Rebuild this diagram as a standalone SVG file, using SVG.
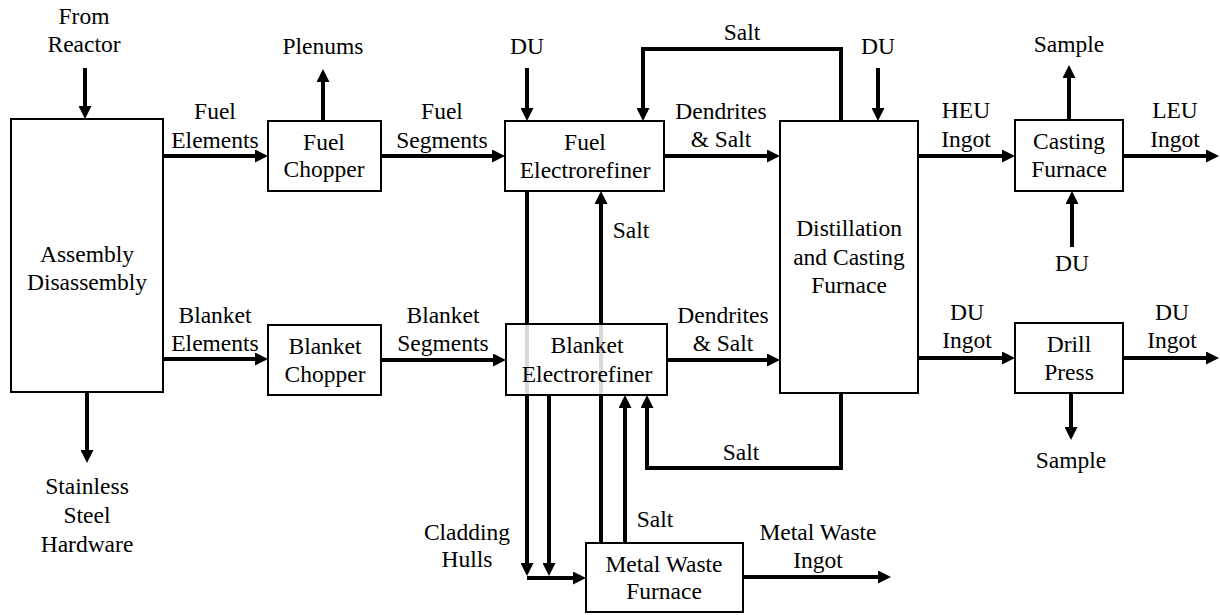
<svg xmlns="http://www.w3.org/2000/svg" width="1220" height="615" viewBox="0 0 1220 615" font-family="'Liberation Serif', 'Times New Roman', serif">
<style>
text{font-family:'Liberation Serif','Times New Roman',serif;font-size:23.5px;fill:#000;text-anchor:middle}
.box{fill:#fff;stroke:#000;stroke-width:2}
.see{fill:#fff;fill-opacity:0.85;stroke:#000;stroke-width:2}
.c{fill:none;stroke:#000;stroke-width:4}
.a{marker-end:url(#ah)}
</style>
<defs>
<marker id="ah" markerUnits="userSpaceOnUse" markerWidth="13" markerHeight="13" viewBox="0 0 13 13" refX="7" refY="6.5" orient="auto">
<path d="M0,0 L13,6.5 L0,13 z" fill="#000"/>
</marker>
</defs>
<rect width="1220" height="615" fill="#fff"/>
<g id="connectors">
<path class="c a" d="M85,68 V113"/>
<path class="c a" d="M87,392 V457"/>
<path class="c a" d="M163,156 H262"/>
<path class="c a" d="M163,359 H262"/>
<path class="c a" d="M323,121 V75"/>
<path class="c a" d="M381,156 H499"/>
<path class="c a" d="M381,360 H500"/>
<path class="c a" d="M527,68 V115"/>
<path class="c a" d="M841,121 V49 H643 V115"/>
<path class="c a" d="M664,156 H774"/>
<path class="c a" d="M878,68 V115"/>
<path class="c a" d="M918,156 H1009"/>
<path class="c a" d="M1069,120 V71"/>
<path class="c a" d="M1123,156 H1213"/>
<path class="c a" d="M1072,247 V197"/>
<path class="c a" d="M667,360 H774"/>
<path class="c a" d="M918,358 H1009"/>
<path class="c a" d="M1123,358 H1213"/>
<path class="c a" d="M1071,393 V434"/>
<path class="c a" d="M841,393 V468 H647 V401"/>
<path class="c a" d="M527,191 V570"/>
<path class="c a" d="M549,395 V570"/>
<path class="c a" d="M527,578 H580"/>
<path class="c a" d="M601,543 V197"/>
<path class="c a" d="M625,543 V401"/>
<path class="c a" d="M743,577 H885"/>
</g>
<g id="assembly"><rect class="box" x="11" y="119" width="152" height="273"/><text x="87" y="262">Assembly</text><text x="87" y="290">Disassembly</text></g>
<g id="fuel-chopper"><rect class="box" x="268" y="121" width="113" height="70"/><text x="324" y="150">Fuel</text><text x="324" y="177">Chopper</text></g>
<g id="blanket-chopper"><rect class="box" x="268" y="325" width="113" height="70"/><text x="325" y="354">Blanket</text><text x="325" y="382">Chopper</text></g>
<g id="fuel-er"><rect class="box" x="505" y="121" width="159" height="70"/><text x="585" y="150">Fuel</text><text x="585" y="178">Electrorefiner</text></g>
<g id="blanket-er"><rect class="see" x="506" y="324" width="161" height="71"/><text x="587" y="353">Blanket</text><text x="587" y="382">Electrorefiner</text></g>
<g id="distillation"><rect class="box" x="780" y="121" width="138" height="272"/><text x="849" y="236">Distillation</text><text x="849" y="265">and Casting</text><text x="849" y="293">Furnace</text></g>
<g id="casting-furnace"><rect class="box" x="1015" y="120" width="108" height="71"/><text x="1069" y="149">Casting</text><text x="1069" y="177">Furnace</text></g>
<g id="drill-press"><rect class="box" x="1015" y="323" width="108" height="70"/><text x="1069" y="352">Drill</text><text x="1069" y="380">Press</text></g>
<g id="metal-waste-furnace"><rect class="box" x="586" y="543" width="157" height="69"/><text x="664" y="572">Metal Waste</text><text x="664" y="599">Furnace</text></g>
<g id="labels">
<text x="84" y="24">From</text><text x="84" y="52">Reactor</text>
<text x="215" y="119">Fuel</text><text x="215" y="148">Elements</text>
<text x="323" y="54">Plenums</text>
<text x="442" y="119">Fuel</text><text x="442" y="148">Segments</text>
<text x="527" y="54">DU</text>
<text x="742" y="40">Salt</text>
<text x="721" y="119">Dendrites</text><text x="721" y="147">&amp; Salt</text>
<text x="878" y="54">DU</text>
<text x="966" y="118">HEU</text><text x="966" y="147">Ingot</text>
<text x="1069" y="52">Sample</text>
<text x="1175" y="118">LEU</text><text x="1175" y="147">Ingot</text>
<text x="1072" y="271">DU</text>
<text x="631" y="238">Salt</text>
<text x="215" y="323">Blanket</text><text x="215" y="351">Elements</text>
<text x="443" y="323">Blanket</text><text x="443" y="351">Segments</text>
<text x="723" y="323">Dendrites</text><text x="723" y="351">&amp; Salt</text>
<text x="967" y="320">DU</text><text x="967" y="348">Ingot</text>
<text x="1172" y="320">DU</text><text x="1172" y="348">Ingot</text>
<text x="741" y="460">Salt</text>
<text x="1071" y="468">Sample</text>
<text x="87" y="494">Stainless</text><text x="87" y="523">Steel</text><text x="87" y="552">Hardware</text>
<text x="467" y="540">Cladding</text><text x="467" y="567">Hulls</text>
<text x="655" y="527">Salt</text>
<text x="818" y="540">Metal Waste</text><text x="818" y="568">Ingot</text>
</g>
</svg>
